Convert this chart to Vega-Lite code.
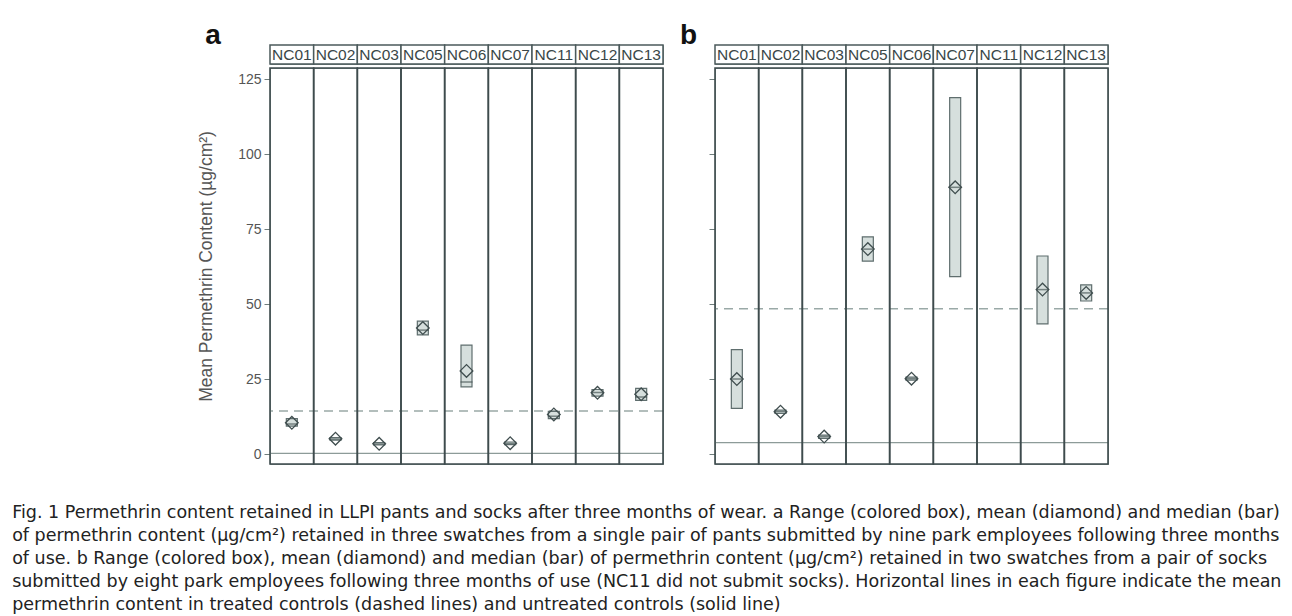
{
  "$schema": "https://vega.github.io/schema/vega-lite/v6.json",
  "background": "white",
  "padding": {"left": 12, "top": 21, "right": 5, "bottom": 2},
  "config": {
    "font": "Liberation Sans",
    "view": {"stroke": "#7f8c8b", "strokeWidth": 1},
    "axis": {"grid": false, "domainColor": "#7f8c8b", "tickColor": "#6f7d7c", "labelColor": "#555555", "titleColor": "#555555", "labelFontSize": 14, "titleFontSize": 17.5, "titleFontWeight": "normal", "tickSize": 6, "labelPadding": 3}
  },
  "datasets": {
    "cols": [
      {"nc": "NC01"}, {"nc": "NC02"}, {"nc": "NC03"}, {"nc": "NC05"}, {"nc": "NC06"},
      {"nc": "NC07"}, {"nc": "NC11"}, {"nc": "NC12"}, {"nc": "NC13"}
    ],
    "stats": [
      {"panel": "a", "nc": "NC01", "mean": 10.4, "median": 10.0, "lo": 9.3, "hi": 11.8},
      {"panel": "a", "nc": "NC02", "mean": 5.1, "median": 5.0, "lo": 4.6, "hi": 5.5},
      {"panel": "a", "nc": "NC03", "mean": 3.4, "median": 3.3, "lo": 3.0, "hi": 3.8},
      {"panel": "a", "nc": "NC05", "mean": 42.0, "median": 41.3, "lo": 39.7, "hi": 44.3},
      {"panel": "a", "nc": "NC06", "mean": 27.7, "median": 24.0, "lo": 22.4, "hi": 36.3},
      {"panel": "a", "nc": "NC07", "mean": 3.6, "median": 3.5, "lo": 3.1, "hi": 4.0},
      {"panel": "a", "nc": "NC11", "mean": 13.2, "median": 12.6, "lo": 11.8, "hi": 14.2},
      {"panel": "a", "nc": "NC12", "mean": 20.4, "median": 20.5, "lo": 19.3, "hi": 21.5},
      {"panel": "a", "nc": "NC13", "mean": 19.9, "median": 19.0, "lo": 17.9, "hi": 21.9},
      {"panel": "b", "nc": "NC01", "mean": 25.0, "median": 25.0, "lo": 15.2, "hi": 34.8},
      {"panel": "b", "nc": "NC02", "mean": 14.1, "median": 14.1, "lo": 13.5, "hi": 14.6},
      {"panel": "b", "nc": "NC03", "mean": 5.8, "median": 5.8, "lo": 5.2, "hi": 6.3},
      {"panel": "b", "nc": "NC05", "mean": 68.3, "median": 68.3, "lo": 64.3, "hi": 72.4},
      {"panel": "b", "nc": "NC06", "mean": 25.1, "median": 25.1, "lo": 24.6, "hi": 25.6},
      {"panel": "b", "nc": "NC07", "mean": 88.9, "median": 88.9, "lo": 59.1, "hi": 118.8},
      {"panel": "b", "nc": "NC12", "mean": 54.8, "median": 54.8, "lo": 43.4, "hi": 66.0},
      {"panel": "b", "nc": "NC13", "mean": 53.7, "median": 53.7, "lo": 51.0, "hi": 56.4}
    ],
    "ctrl": [
      {"panel": "a", "treated": 14.3, "untreated": 0.2},
      {"panel": "b", "treated": 48.4, "untreated": 3.8}
    ]
  },
  "title": {
    "text": [
      "Fig. 1 Permethrin content retained in LLPI pants and socks after three months of wear. a Range (colored box), mean (diamond) and median (bar)",
      "of permethrin content (µg/cm²) retained in three swatches from a single pair of pants submitted by nine park employees following three months",
      "of use. b Range (colored box), mean (diamond) and median (bar) of permethrin content (µg/cm²) retained in two swatches from a pair of socks",
      "submitted by eight park employees following three months of use (NC11 did not submit socks). Horizontal lines in each figure indicate the mean",
      "permethrin content in treated controls (dashed lines) and untreated controls (solid line)"
    ],
    "orient": "bottom",
    "anchor": "start",
    "frame": "bounds",
    "dx": -185,
    "offset": 39,
    "font": "DejaVu Sans",
    "fontSize": 17.5,
    "fontWeight": "normal",
    "lineHeight": 23,
    "color": "#222222"
  },
  "spacing": 15,
  "hconcat": [
    {
      "title": {"text": "a", "anchor": "start", "frame": "bounds", "dx": 8, "fontSize": 28, "fontWeight": "bold", "color": "#111111", "baseline": "alphabetic", "offset": -28},
      "spacing": 0,
      "vconcat": [
        {
          "width": 393, "height": 19,
          "data": {"name": "cols"},
          "layer": [
            {"mark": {"type": "rect", "fill": "white", "stroke": "#4b5a5b", "strokeWidth": 1.5},
             "encoding": {"x": {"field": "nc", "type": "nominal", "axis": null, "scale": {"paddingInner": 0, "paddingOuter": 0}}}},
            {"mark": {"type": "text", "fontSize": 15.5, "color": "#3a4748"},
             "encoding": {"x": {"field": "nc", "type": "nominal", "axis": null, "scale": {"paddingInner": 0, "paddingOuter": 0}}, "text": {"field": "nc"}}}
          ]
        },
        {
          "width": 393, "height": 396,
          "layer": [
            {"data": {"name": "ctrl"}, "transform": [{"filter": "datum.panel === 'a'"}],
             "mark": {"type": "rule", "color": "#9aa9a7", "strokeWidth": 1.5, "strokeDash": [9, 6]},
             "encoding": {"y": {"field": "treated", "type": "quantitative", "scale": {"domain": [-3.33, 128.67], "nice": false, "zero": false},
               "axis": {"values": [0, 25, 50, 75, 100, 125], "title": "Mean Permethrin Content (µg/cm²)", "titlePadding": 22}}}},
            {"data": {"name": "ctrl"}, "transform": [{"filter": "datum.panel === 'a'"}],
             "mark": {"type": "rule", "color": "#8d9b99", "strokeWidth": 1.2},
             "encoding": {"y": {"field": "untreated", "type": "quantitative"}}},
            {"data": {"name": "cols"},
             "mark": {"type": "rect", "fill": "transparent", "stroke": "#3e4b4d", "strokeWidth": 1.6},
             "encoding": {"x": {"field": "nc", "type": "nominal", "axis": null, "scale": {"paddingInner": 0, "paddingOuter": 0}}}},
            {"data": {"name": "stats"}, "transform": [{"filter": "datum.panel === 'a'"}],
             "mark": {"type": "bar", "width": 11, "fill": "#d6dfdd", "stroke": "#5f6e6e", "strokeWidth": 1.2},
             "encoding": {"x": {"field": "nc", "type": "nominal", "axis": null}, "y": {"field": "lo", "type": "quantitative"}, "y2": {"field": "hi"}}},
            {"data": {"name": "stats"}, "transform": [{"filter": "datum.panel === 'a'"}],
             "mark": {"type": "tick", "size": 12, "thickness": 1.5, "color": "#4a5859"},
             "encoding": {"x": {"field": "nc", "type": "nominal", "axis": null}, "y": {"field": "median", "type": "quantitative"}}},
            {"data": {"name": "stats"}, "transform": [{"filter": "datum.panel === 'a'"}],
             "mark": {"type": "point", "shape": "diamond", "size": 160, "filled": false, "stroke": "#3f4d4e", "strokeWidth": 1.3, "opacity": 1},
             "encoding": {"x": {"field": "nc", "type": "nominal", "axis": null}, "y": {"field": "mean", "type": "quantitative"}}}
          ]
        }
      ]
    },
    {
      "title": {"text": "b", "anchor": "start", "frame": "bounds", "dx": -28, "fontSize": 28, "fontWeight": "bold", "color": "#111111", "baseline": "alphabetic", "offset": -28},
      "spacing": 0,
      "vconcat": [
        {
          "width": 393, "height": 19,
          "data": {"name": "cols"},
          "layer": [
            {"mark": {"type": "rect", "fill": "white", "stroke": "#4b5a5b", "strokeWidth": 1.5},
             "encoding": {"x": {"field": "nc", "type": "nominal", "axis": null, "scale": {"paddingInner": 0, "paddingOuter": 0}}}},
            {"mark": {"type": "text", "fontSize": 15.5, "color": "#3a4748"},
             "encoding": {"x": {"field": "nc", "type": "nominal", "axis": null, "scale": {"paddingInner": 0, "paddingOuter": 0}}, "text": {"field": "nc"}}}
          ]
        },
        {
          "width": 393, "height": 396,
          "layer": [
            {"data": {"name": "ctrl"}, "transform": [{"filter": "datum.panel === 'b'"}],
             "mark": {"type": "rule", "color": "#9aa9a7", "strokeWidth": 1.5, "strokeDash": [9, 6]},
             "encoding": {"y": {"field": "treated", "type": "quantitative", "scale": {"domain": [-3.33, 128.67], "nice": false, "zero": false},
               "axis": {"values": [0, 25, 50, 75, 100, 125], "labels": false, "title": null}}}},
            {"data": {"name": "ctrl"}, "transform": [{"filter": "datum.panel === 'b'"}],
             "mark": {"type": "rule", "color": "#8d9b99", "strokeWidth": 1.2},
             "encoding": {"y": {"field": "untreated", "type": "quantitative"}}},
            {"data": {"name": "cols"},
             "mark": {"type": "rect", "fill": "transparent", "stroke": "#3e4b4d", "strokeWidth": 1.6},
             "encoding": {"x": {"field": "nc", "type": "nominal", "axis": null, "scale": {"paddingInner": 0, "paddingOuter": 0}}}},
            {"data": {"name": "stats"}, "transform": [{"filter": "datum.panel === 'b'"}],
             "mark": {"type": "bar", "width": 11, "fill": "#d6dfdd", "stroke": "#5f6e6e", "strokeWidth": 1.2},
             "encoding": {"x": {"field": "nc", "type": "nominal", "axis": null}, "y": {"field": "lo", "type": "quantitative"}, "y2": {"field": "hi"}}},
            {"data": {"name": "stats"}, "transform": [{"filter": "datum.panel === 'b'"}],
             "mark": {"type": "tick", "size": 12, "thickness": 1.5, "color": "#4a5859"},
             "encoding": {"x": {"field": "nc", "type": "nominal", "axis": null}, "y": {"field": "median", "type": "quantitative"}}},
            {"data": {"name": "stats"}, "transform": [{"filter": "datum.panel === 'b'"}],
             "mark": {"type": "point", "shape": "diamond", "size": 160, "filled": false, "stroke": "#3f4d4e", "strokeWidth": 1.3, "opacity": 1},
             "encoding": {"x": {"field": "nc", "type": "nominal", "axis": null}, "y": {"field": "mean", "type": "quantitative"}}}
          ]
        }
      ]
    }
  ]
}
